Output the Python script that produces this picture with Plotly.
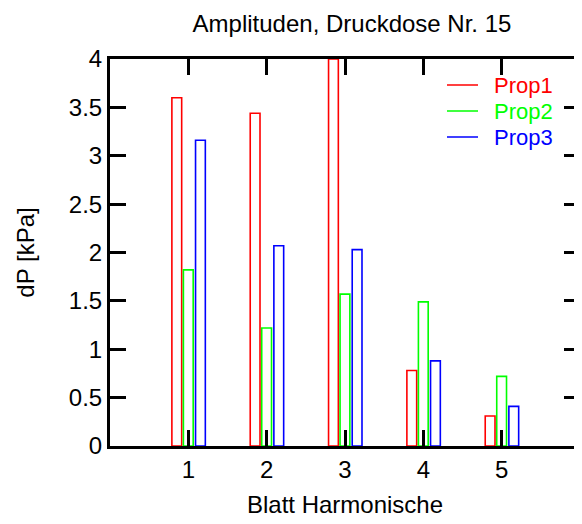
import plotly.graph_objects as go

harmonics = [1, 2, 3, 4, 5]
prop1 = [3.60, 3.44, 4.00, 0.78, 0.31]
prop2 = [1.82, 1.22, 1.57, 1.49, 0.72]
prop3 = [3.16, 2.07, 2.03, 0.88, 0.41]
series_names = ["Prop1", "Prop2", "Prop3"]
series_colors = ["#ff0000", "#00ff00", "#0000ff"]
y_ticks = [0, 0.5, 1, 1.5, 2, 2.5, 3, 3.5, 4]
y_ticktext = ["0", "0.5", "1", "1.5", "2", "2.5", "3", "3.5", "4"]

bar_offsets = [-0.21, -0.063, 0.092]
bar_width = 0.125

FONT = "Liberation Sans, Arial, sans-serif"

fig = go.Figure()
for vals, name, col, off in zip([prop1, prop2, prop3], series_names, series_colors, bar_offsets):
    fig.add_trace(go.Bar(
        x=harmonics, y=vals, width=bar_width, offset=off, name=name,
        marker=dict(color="rgba(255,255,255,0)", line=dict(color=col, width=1.6)),
        showlegend=False, cliponaxis=False,
    ))

# legend drawn as line samples + coloured labels (paper coordinates)
legend_rows_y = [(438 - 77) / 387, (438 - 103) / 387, (438 - 129) / 387]
for name, col, ly in zip(series_names, series_colors, legend_rows_y):
    fig.add_shape(type="line", xref="paper", yref="paper",
                  x0=0.717, x1=0.783, y0=ly, y1=ly,
                  line=dict(color=col, width=1.6))
    fig.add_annotation(xref="paper", yref="paper", x=0.812, y=ly,
                       xanchor="left", yanchor="middle", text=name,
                       showarrow=False, font=dict(size=22, color=col))

fig.update_layout(
    width=574, height=516,
    margin=dict(l=102, r=2, t=51, b=78),
    paper_bgcolor="white", plot_bgcolor="white",
    barmode="overlay",
    showlegend=False,
    font=dict(family=FONT, size=24, color="black"),
    title=dict(text="Amplituden, Druckdose Nr. 15", x=344 / 574, xanchor="center",
               y=1 - 16 / 516, yanchor="middle", yref="container",
               font=dict(size=24, color="black")),
)
fig.update_xaxes(
    range=[0, 6], tickvals=harmonics, ticktext=[str(h) for h in harmonics],
    ticks="inside", ticklen=16, tickwidth=3, tickcolor="black",
    showline=True, linecolor="black", linewidth=3, mirror="ticks",
    showgrid=False, zeroline=False, automargin=False,
    title=dict(text="Blatt Harmonische", standoff=15, font=dict(size=24)),
    tickfont=dict(size=24),
)
fig.update_yaxes(
    range=[0, 4], tickvals=y_ticks, ticktext=y_ticktext,
    ticks="inside", ticklen=16, tickwidth=3, tickcolor="black",
    showline=True, linecolor="black", linewidth=3, mirror="ticks",
    showgrid=False, zeroline=False, automargin=False,
    title=dict(text="dP [kPa]", standoff=28, font=dict(size=24)),
    tickfont=dict(size=24),
)

fig.write_html("out.html")
